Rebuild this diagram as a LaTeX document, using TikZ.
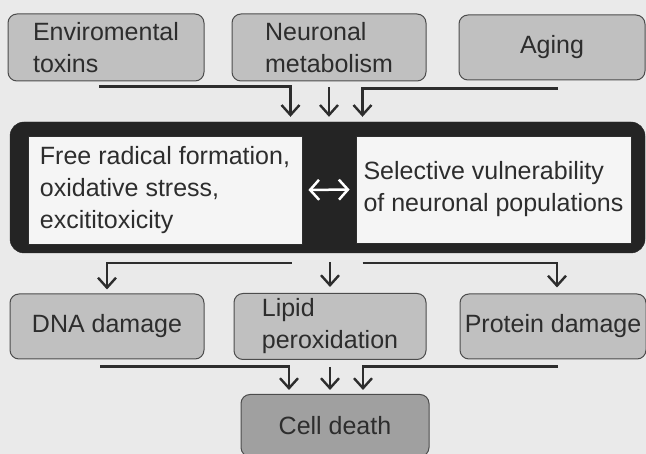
\documentclass[tikz,border=0pt]{standalone}
\usepackage{fontspec}
\setmainfont{Liberation Sans}
\usetikzlibrary{arrows.meta}

\definecolor{paper}{RGB}{234,234,234}
\definecolor{boxgray}{RGB}{192,192,192}
\definecolor{deathgray}{RGB}{160,160,160}
\definecolor{ink}{RGB}{45,45,45}
\definecolor{coregray}{RGB}{36,36,36}

\begin{document}
\begin{tikzpicture}[x=1pt,y=-1pt,color=ink,node distance=223pt,
    >={Straight Barb[length=10pt,width=18pt]},
    font=\fontsize{25}{32}\selectfont,
    flow/.style={->,line width=2.4pt},
    factor node/.style={draw=ink!85,line width=1pt,fill=boxgray,rounded corners=9pt,align=left,inner sep=0pt,minimum height=67pt},
    hub node/.style={draw=coregray,fill=coregray,rounded corners=14pt,inner sep=0pt},
    core node/.style={draw=ink,line width=0.8pt,fill=white!96!black,align=left,inner sep=0pt}]

  \fill[paper] (0,0) rectangle (646,454);
  \useasboundingbox (0,0) rectangle (646,454);

  % causes
  \node[factor node,minimum width=196pt] (env) at (106,47.5) {Enviromental\\toxins};
  \node[factor node,minimum width=194pt,right of=env] (neur) {Neuronal\\metabolism};
  \node[factor node,minimum width=186pt,minimum height=65pt,right of=neur] (aging) {Aging};

  % central block
  \node[hub node,minimum width=635pt,minimum height=131pt] (hub) at (327.5,187.5) {};
  \node[core node,minimum width=274pt,minimum height=108pt] (free) at (165,190) {Free radical formation,\\oxidative stress,\\excititoxicity};
  \node[core node,minimum width=275pt,minimum height=107pt] (sel) at (493.5,189.5) {Selective vulnerability\\of neuronal populations};
  \draw[<->,white,line width=2.5pt,>={Straight Barb[length=9pt,width=20pt]},shorten <=6pt,shorten >=6pt] (free.east) -- (sel.west);

  % damage
  \node[factor node,minimum width=194pt,minimum height=65pt] (dna) at (107,326.5) {DNA damage};
  \node[factor node,minimum width=192pt,minimum height=66pt,right of=dna] (lipid) {Lipid\\peroxidation};
  \node[factor node,minimum width=186pt,minimum height=65pt,right of=lipid] (prot) {Protein damage};
  \node[factor node,fill=deathgray,minimum width=188pt,minimum height=62pt,node distance=99pt,below of=lipid,xshift=5pt] (cell) {Cell death};

  % causes -> central block
  \coordinate (envtail) at ([xshift=-7pt,yshift=-5pt]env.south);
  \coordinate (agetail) at ([xshift=6pt,yshift=-8pt]aging.south);
  \draw[flow] (envtail) -| ([xshift=-37pt,yshift=5pt]hub.north);
  \draw[flow,shorten <=6pt,shorten >=5pt] (neur.south) -- (neur.south |- hub.north);
  \draw[flow] (agetail) -| ([xshift=35pt,yshift=5pt]hub.north);

  % central block -> damage
  \coordinate (lefttail) at ([xshift=-36pt,yshift=-10pt]hub.south);
  \coordinate (righttail) at ([xshift=35pt,yshift=-10pt]hub.south);
  \draw[flow] (lefttail) -| ([yshift=4pt]dna.north);
  \draw[flow,shorten <=9pt,shorten >=6pt] (hub.south -| lipid.north) -- (lipid.north);
  \draw[flow] (righttail) -| ([xshift=4pt,yshift=6pt]prot.north);

  % damage -> cell death
  \coordinate (dnatail) at ([xshift=-7pt,yshift=-7pt]dna.south);
  \coordinate (prottail) at ([xshift=5pt,yshift=-7pt]prot.south);
  \draw[flow] (dnatail) -| ([xshift=-46pt,yshift=4pt]cell.north);
  \draw[flow,shorten <=7pt,shorten >=4pt] (lipid.south) -- (lipid.south |- cell.north);
  \draw[flow] (prottail) -| ([xshift=28pt,yshift=4pt]cell.north);
\end{tikzpicture}
\end{document}
